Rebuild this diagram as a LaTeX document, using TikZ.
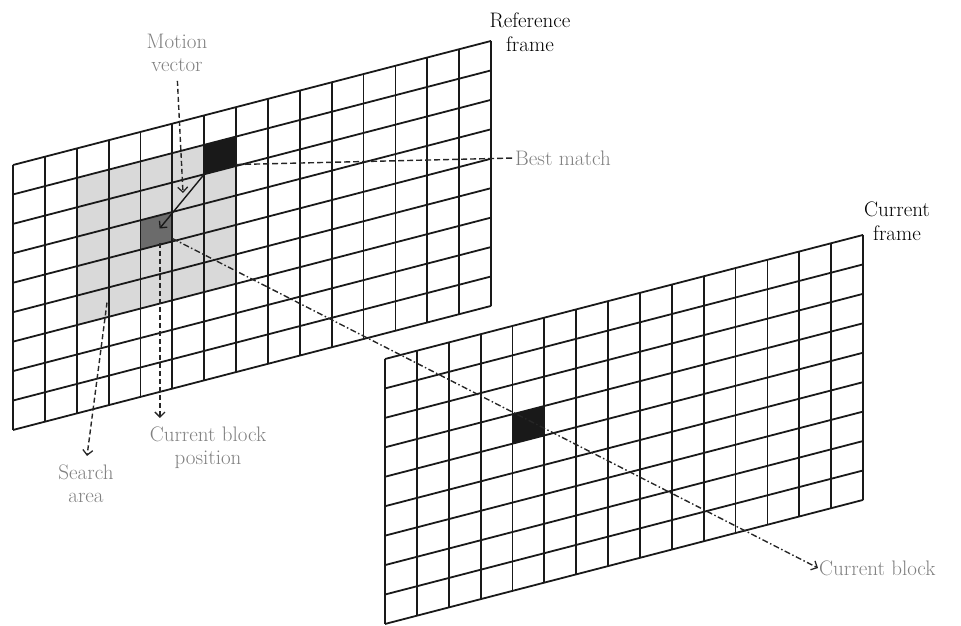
\documentclass[tikz,border=0pt]{standalone}
\usetikzlibrary{arrows.meta,calc}
\definecolor{lbl}{gray}{0.5}
\definecolor{searchgray}{gray}{0.85}
\definecolor{blockgray}{gray}{0.42}
\definecolor{blockblack}{gray}{0.1}
\begin{document}
\begin{tikzpicture}[x=1pt,y=-1pt,
  gridline/.style={line width=1.8pt, black!90},
  labeltext/.style={text=lbl, font=\fontsize{21}{23}\selectfont, align=center, inner sep=1pt},
  titletext/.style={text=black, font=\fontsize{21}{24}\selectfont, align=center, inner sep=1pt},
  pointer/.style={line width=1.4pt, black!85, dash pattern=on 5pt off 3pt, -{Straight Barb[length=5pt,width=10pt,line width=1.3pt]}},
  dashdotline/.style={line width=1.4pt, black!85, dash pattern=on 6pt off 2.5pt on 1.5pt off 2.5pt, -{Straight Barb[length=5pt,width=10pt,line width=1.3pt]}},
  matchline/.style={line width=1.4pt, black!85, dash pattern=on 6pt off 3pt},
  vecarrow/.style={line width=1.4pt, black!90, -{Straight Barb[length=5pt,width=10pt,line width=1.3pt]}}
]
\useasboundingbox (0,0) rectangle (961,625);

% Reference frame
\begin{scope}[shift={(13,165)}, x={(31.87pt,8.27pt)}, y={(0pt,-29.44pt)}]
  \fill[searchgray] (2,1) -- (7,1) -- (7,6) -- (2,6) -- cycle;
  \fill[blockblack] (6,1) -- (7,1) -- (7,2) -- (6,2) -- cycle;
  \fill[blockgray] (4,3) -- (5,3) -- (5,4) -- (4,4) -- cycle;
  \foreach \i in {0,...,15} \draw[gridline] (\i,0) -- (\i,9);
  \foreach \j in {0,...,9} \draw[gridline] (0,\j) -- (15,\j);
  \coordinate (bmLL) at (6,2);
  \coordinate (bmR) at (7,1.95);
  \coordinate (cbIn) at (4.6,3.45);
  \coordinate (cbOut) at (5,3.9);
  \coordinate (cbDown) at (4.61,3.94);
  \coordinate (saStart) at (2.95,5.5);
\end{scope}

% Current frame
\begin{scope}[shift={(385,359)}, x={(31.87pt,8.27pt)}, y={(0pt,-29.44pt)}]
  \fill[blockblack] (4,3) -- (5,3) -- (5,4) -- (4,4) -- cycle;
  \foreach \i in {0,...,15} \draw[gridline] (\i,0) -- (\i,9);
  \foreach \j in {0,...,9} \draw[gridline] (0,\j) -- (15,\j);
\end{scope}

% Titles
\node[titletext] (reftitle) at (530,32) {Reference\\frame};
\node[titletext] (curtitle) at (897,221) {Current\\frame};

% Labels
\node[labeltext] (mvlabel) at (177,53) {Motion\\vector};
\node[labeltext, anchor=west] (bmlabel) at (514,158) {Best match};
\node[labeltext] (salabel) at (86,484) {Search\\area};
\node[labeltext] (cbplabel) at (208,448) {Current block\\position};
\node[labeltext, anchor=west] (cblabel) at (818,568) {Current block};

\coordinate (mvTip) at (183,193);

% Connectors
\draw[vecarrow] (bmLL) -- (cbIn);
\draw[pointer, shorten <=8pt] (mvlabel.south) -- (mvTip);
\draw[matchline] (bmR) -- (bmlabel.west);
\draw[pointer, shorten >=8pt] (saStart) -- (salabel.north);
\draw[pointer, shorten >=8pt] (cbDown) -- (cbplabel.north -| cbDown);
\draw[dashdotline] (cbOut) -- (cblabel.west);
\end{tikzpicture}
\end{document}
